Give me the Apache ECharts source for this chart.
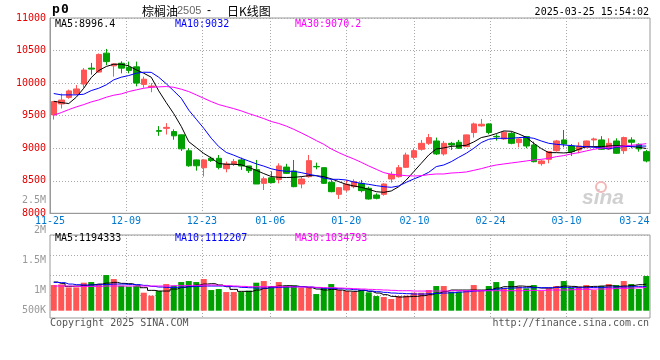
<!DOCTYPE html>
<html><head><meta charset="utf-8">
<script src="https://cdn.jsdelivr.net/npm/echarts@6/dist/echarts.min.js"></script>
<style>html,body{margin:0;padding:0;background:#fff}#c{width:660px;height:360px}</style>
</head><body><div id="c"></div><script>
const dates = ['11-25','11-26','11-27','11-28','11-29','12-02','12-03','12-04','12-05','12-06',
'12-09','12-10','12-11','12-12','12-13','12-16','12-17','12-18','12-19','12-20',
'12-23','12-24','12-25','12-26','12-27','12-30','12-31','01-02','01-03','01-06',
'01-07','01-08','01-09','01-10','01-13','01-14','01-15','01-16','01-17','01-20',
'01-21','01-22','01-23','01-24','01-27','02-05','02-06','02-07','02-10','02-11',
'02-12','02-13','02-14','02-17','02-18','02-19','02-20','02-21','02-24','02-25',
'02-26','02-27','02-28','03-03','03-04','03-05','03-06','03-07','03-10','03-11',
'03-12','03-13','03-14','03-17','03-18','03-19','03-20','03-21','03-24','03-25'];
const labelDates = ['11-25','12-09','12-23','01-06','01-20','02-10','02-24','03-10','03-24'];
const gridDates = ['12-09','12-23','01-06','01-20','02-10','02-24','03-10'];

const opens = [9511,9680,9780,9835,9985,10230,10170,10460,10265,10305,
10240,10250,9980,9940,9270,9305,9255,9205,8960,8820,
8700,8845,8845,8685,8758,8820,8727,8670,8460,8545,
8520,8710,8650,8450,8563,8720,8701,8476,8291,8358,
8409,8460,8384,8281,8291,8527,8563,8706,8860,8983,
9075,9111,8912,9075,9091,9024,9240,9342,9373,9182,
9142,9229,9086,9178,9050,8763,8829,8962,9127,9034,
8973,9014,9127,9127,8989,9111,8962,9127,9060,8947];
const closes = [9716,9740,9880,9910,10200,10215,10440,10330,10295,10230,
10195,10000,10060,9955,9260,9320,9190,8990,8730,8730,
8820,8810,8705,8758,8794,8727,8655,8450,8530,8471,
8727,8614,8409,8527,8809,8714,8460,8332,8394,8445,
8486,8348,8220,8230,8450,8599,8701,8896,8962,9075,
9163,8912,9075,9050,8999,9204,9373,9368,9240,9175,
9245,9075,9142,9034,8793,8804,8947,9111,9065,8947,
9034,9111,9142,8983,9075,8922,9163,9091,8989,8804];
const lows = [9440,9610,9760,9820,9930,10130,10160,10275,10100,10150,
10150,9950,9930,9860,9190,9210,9130,8958,8715,8655,
8565,8790,8675,8630,8727,8666,8620,8450,8358,8460,
8460,8604,8400,8384,8548,8676,8450,8322,8220,8330,
8384,8322,8210,8215,8271,8471,8548,8701,8829,8962,
9050,8896,8886,8973,8990,9024,9163,9332,9214,9117,
9127,9060,9014,8999,8783,8732,8768,8947,9014,8881,
8922,9000,9014,8975,8973,8912,8912,8999,8947,8783];
const highs = [9720,9840,9900,9970,10230,10310,10455,10525,10300,10335,
10330,10330,10100,10000,9340,9385,9290,9210,9000,8825,
8830,8870,8895,8794,8835,8855,8727,8820,8563,8645,
8768,8760,8819,8563,8896,8778,8705,8512,8400,8512,
8522,8512,8409,8307,8460,8640,8742,8932,8999,9127,
9219,9163,9111,9096,9127,9210,9393,9450,9380,9214,
9265,9255,9152,9188,9101,8819,8958,9127,9280,9065,
9091,9117,9163,9185,9152,9152,9178,9168,9075,8973];

const ma5 = [9721,9701,9686,9783,9921,10085,10193,10255,10290,10290,
10265,10203,10152,10090,9880,9700,9530,9335,9100,9010,
8920,8850,8765,8753,8753,8745,8705,8660,8610,8565,
8553,8550,8553,8563,8578,8578,8563,8530,8486,8445,
8420,8399,8368,8332,8322,8343,8409,8512,8640,8768,
8896,8988,9004,9029,9034,9045,9096,9163,9188,9224,
9265,9260,9219,9168,9075,8994,8932,8932,8927,8937,
8983,9024,9024,9024,9034,9040,9034,9024,9014,8996];
const ma10 = [9840,9819,9819,9819,9829,9885,9921,9973,10050,10091,
10116,10152,10167,10165,10090,9990,9880,9767,9585,9445,
9306,9153,9025,8935,8893,8845,8803,8760,8725,8684,
8658,8645,8645,8625,8599,8578,8542,8522,8522,8512,
8481,8460,8445,8425,8409,8399,8420,8476,8527,8573,
8630,8717,8742,8793,8860,8922,8999,9086,9137,9152,
9152,9152,9163,9168,9152,9111,9075,9060,9050,9040,
9029,9024,9014,9004,8988,9014,9024,9029,9034,9032];
const ma30 = [9506,9547,9593,9634,9670,9711,9742,9783,9814,9834,
9870,9896,9921,9936,9942,9947,9936,9906,9870,9819,
9767,9716,9670,9639,9608,9573,9532,9495,9455,9410,
9380,9340,9290,9235,9178,9117,9060,8988,8932,8881,
8835,8783,8727,8676,8625,8599,8589,8578,8573,8578,
8594,8604,8604,8619,8625,8635,8660,8686,8717,8742,
8758,8773,8788,8804,8819,8829,8845,8870,8886,8912,
8932,8958,8983,8999,9014,9024,9034,9045,9055,9070];

const volumes = [1102000,1130000,1001000,1001000,1202000,1230000,1144000,1531000,1359000,1073000,
1030000,1073000,773000,644000,844000,1144000,1073000,1230000,1273000,1230000,
1359000,887000,930000,801000,801000,801000,858000,1202000,1273000,1059000,
1230000,1073000,1087000,987000,987000,715000,987000,1144000,887000,844000,
815000,887000,787000,629000,587000,501000,629000,644000,773000,773000,
887000,1059000,1059000,815000,815000,844000,1102000,887000,1059000,1230000,
959000,1273000,1030000,959000,1102000,844000,959000,1059000,1273000,987000,
1030000,1102000,887000,1059000,1144000,1102000,1273000,1144000,930000,1488000];
const volMa5 = [1230000,1173000,1044000,1059000,1087000,1116000,1144000,1187000,1216000,1173000,
1159000,1102000,987000,873000,844000,844000,930000,1001000,1044000,1102000,
1144000,1159000,1102000,1030000,916000,830000,830000,887000,959000,1030000,
1059000,1073000,1059000,1030000,987000,930000,887000,916000,887000,844000,
830000,873000,830000,758000,687000,615000,587000,601000,615000,644000,
687000,758000,830000,887000,887000,887000,887000,887000,916000,973000,
1030000,1030000,1059000,1044000,1001000,973000,973000,1016000,1059000,1044000,
1016000,1030000,1044000,1059000,1073000,1044000,1059000,1087000,1116000,1144000];
const volMa10 = [1216000,1202000,1144000,1116000,1102000,1102000,1116000,1130000,1144000,1144000,
1130000,1116000,1087000,1044000,1016000,1001000,1001000,1016000,1030000,1044000,
1059000,1059000,1059000,1044000,1030000,1001000,987000,973000,973000,987000,
1001000,1016000,1030000,1030000,1016000,987000,959000,959000,944000,930000,
901000,887000,844000,815000,787000,758000,744000,730000,715000,715000,
730000,744000,758000,773000,801000,815000,844000,858000,887000,930000,
959000,973000,987000,987000,987000,987000,987000,1001000,1001000,987000,
987000,987000,1001000,1001000,1016000,1016000,1016000,1030000,1030000,1044000];
const volMa30 = [1059000,1059000,1059000,1044000,1044000,1044000,1044000,1059000,1059000,1059000,
1059000,1059000,1059000,1059000,1059000,1059000,1073000,1073000,1087000,1087000,
1102000,1102000,1087000,1073000,1059000,1044000,1030000,1030000,1030000,1030000,
1030000,1030000,1016000,1016000,1016000,1001000,987000,987000,973000,959000,
944000,930000,916000,901000,887000,873000,858000,858000,844000,844000,
844000,844000,844000,858000,858000,858000,858000,858000,858000,858000,
858000,858000,858000,873000,873000,873000,887000,887000,887000,901000,
916000,916000,930000,930000,944000,959000,959000,973000,987000,1001000];

const volTickLabels = ['500K','1M','1.5M','2M','2.5M'];
const titleName = '棕榈油', titleCode = '2505', titleKind = '日K线图';
const stamp = '2025-03-25 15:54:02';
const priceLegend = {ma5:'8996.4', ma10:'9032', ma30:'9070.2'};
const volLegend = {ma5:'1194333', ma10:'1112207', ma30:'1034793'};

const MONO = '"DejaVu Sans Mono","Liberation Mono",monospace';
const CJK = '"Noto Sans CJK SC",sans-serif';
const RED = '#ff5555', GREEN = '#00a000';
const GRIDC = '#a8a8a8', BORDER = '#999';

const isLabel = (i, v) => labelDates.indexOf(v) >= 0;
const isGrid = (i, v) => gridDates.indexOf(v) >= 0;

function txt(x, y, text, opt) {
  return {type:'text', x:x, y:y, silent:true, z:100,
    style: Object.assign({text:text, fontFamily:MONO, fontSize:10, fill:'#000',
      align:'left', verticalAlign:'middle', textAlign:'left', textVerticalAlign:'middle'}, opt || {})};
}

const candleData = opens.map((o, i) => [o, closes[i], lows[i], highs[i]]);
const volData = volumes.map((v, i) => ({value:v, itemStyle:{color: closes[i] >= opens[i] ? RED : GREEN}}));

const chart = echarts.init(document.getElementById('c'), null, {renderer:'canvas', width:660, height:360});
const dotted = {color:GRIDC, width:1, type:[1,2]};

chart.setOption({
  animation:false,
  backgroundColor:'#fff',
  grid:[
    {left:50, right:10, top:18, height:195.3, show:true, borderColor:BORDER, borderWidth:1},
    {left:50, right:10, top:235, height:83, show:true, borderColor:BORDER, borderWidth:1},
    {left:50, right:10, top:200.7, height:120, show:false},
    {left:50, right:10, top:235, height:60.7, show:false}
  ],
  xAxis:[
    {gridIndex:0, type:'category', data:dates, boundaryGap:true, position:'bottom',
     axisLine:{show:true, lineStyle:{color:BORDER}}, axisTick:{show:false}, axisLabel:{show:false}, splitLine:{show:false}},
    {gridIndex:0, type:'category', data:dates, boundaryGap:false, position:'bottom',
     axisLine:{show:false}, axisTick:{show:false},
     axisLabel:{show:true, interval:isLabel, margin:3, color:'#0078d0', fontFamily:MONO, fontSize:10,
       formatter:(v) => v === '03-24' ? '{r|' + v + '}' : v,
       rich:{r:{padding:[0,16,0,0], color:'#0078d0', fontFamily:MONO, fontSize:10}}},
     splitLine:{show:true, interval:isGrid, lineStyle:dotted}},
    {gridIndex:1, type:'category', data:dates, boundaryGap:true, show:false},
    {gridIndex:1, type:'category', data:dates, boundaryGap:false,
     axisLine:{show:false}, axisTick:{show:false}, axisLabel:{show:false},
     splitLine:{show:true, interval:isGrid, lineStyle:dotted}},
    {gridIndex:2, type:'value', show:false},
    {gridIndex:3, type:'value', show:false}
  ],
  yAxis:[
    {gridIndex:0, type:'value', min:8000, max:11000, interval:500, scale:true,
     axisLine:{show:true, lineStyle:{color:BORDER}}, axisTick:{show:false},
     axisLabel:{color:'#e60000', fontFamily:MONO, fontSize:10, margin:4, formatter:(v) => String(v)},
     splitLine:{show:true, lineStyle:dotted}},
    {gridIndex:1, type:'value', min:-313000, max:3249000, show:false},
    {gridIndex:2, type:'value', min:500000, max:2500000, interval:500000,
     axisLine:{show:false}, axisTick:{show:false}, splitLine:{show:false},
     axisLabel:{color:'#999', fontFamily:MONO, fontSize:10, margin:4,
       formatter:(v) => {
         const k = Math.round((v - 500000) / 500000);
         return k === 0 ? '{lift|' + volTickLabels[0] + '}' : volTickLabels[k];
       },
       rich:{lift:{padding:[0,0,20,0], color:'#999', fontFamily:MONO, fontSize:10}}}},
    {gridIndex:3, type:'value', min:0, max:3, interval:1,
     axisLine:{show:false}, axisTick:{show:false}, axisLabel:{show:false},
     splitLine:{show:true, lineStyle:dotted}}
  ],
  series:[
    {type:'candlestick', xAxisIndex:0, yAxisIndex:0, data:candleData, barWidth:6,
     itemStyle:{color:RED, color0:GREEN, borderColor:RED, borderColor0:GREEN, borderWidth:1}},
    {type:'line', xAxisIndex:0, yAxisIndex:0, data:ma5, symbol:'none', lineStyle:{color:'#000', width:1}, z:3},
    {type:'line', xAxisIndex:0, yAxisIndex:0, data:ma10, symbol:'none', lineStyle:{color:'#0000ff', width:1}, z:3},
    {type:'line', xAxisIndex:0, yAxisIndex:0, data:ma30, symbol:'none', lineStyle:{color:'#ff00ff', width:1}, z:3},
    {type:'bar', xAxisIndex:2, yAxisIndex:1, data:volData, barWidth:6},
    {type:'line', xAxisIndex:2, yAxisIndex:1, data:volMa5, step:'middle', symbol:'none', lineStyle:{color:'#000', width:1}, z:3},
    {type:'line', xAxisIndex:2, yAxisIndex:1, data:volMa10, step:'middle', symbol:'none', lineStyle:{color:'#0000ff', width:1}, z:3},
    {type:'line', xAxisIndex:2, yAxisIndex:1, data:volMa30, step:'middle', symbol:'none', lineStyle:{color:'#ff00ff', width:1}, z:3}
  ],
  graphic:[
    txt(52, 10, 'p', {fontWeight:'bold', fontSize:13}),
    txt(61, 10, '0', {fontWeight:'bold', fontSize:13}),
    txt(142, 11, titleName, {fontFamily:CJK, fontSize:12}),
    txt(177, 11, titleCode, {fontFamily:'"Liberation Sans",Arial,sans-serif', fontSize:11, fill:'#666'}),
    txt(207, 11, '-', {fontFamily:'"Liberation Sans",Arial,sans-serif', fontSize:12}),
    txt(227, 11, titleKind, {fontFamily:CJK, fontSize:12}),
    txt(649, 12, stamp, {align:'right', textAlign:'right'}),
    txt(55, 24, 'MA5:' + priceLegend.ma5, {fill:'#000'}),
    txt(175, 24, 'MA10:' + priceLegend.ma10, {fill:'#0000ff'}),
    txt(295, 24, 'MA30:' + priceLegend.ma30, {fill:'#ff00ff'}),
    txt(55, 238.5, 'MA5:' + volLegend.ma5, {fill:'#000'}),
    txt(175, 238.5, 'MA10:' + volLegend.ma10, {fill:'#0000ff'}),
    txt(295, 238.5, 'MA30:' + volLegend.ma30, {fill:'#ff00ff'}),
    txt(50, 323.5, 'Copyright 2025 SINA.COM', {fill:'#555'}),
    txt(649, 323.5, 'http://finance.sina.com.cn', {fill:'#555', align:'right', textAlign:'right'}),
    {type:'circle', silent:true, z:1, shape:{cx:601, cy:187, r:5}, style:{fill:'none', stroke:'#f2b8b8', lineWidth:2}},
    txt(582, 198, 'sina', {fontFamily:'"Liberation Sans",Arial,sans-serif', fontSize:21, fontWeight:'bold', fontStyle:'italic', fill:'#c4c4c4', opacity:0.8})
  ]
});
</script></body></html>
